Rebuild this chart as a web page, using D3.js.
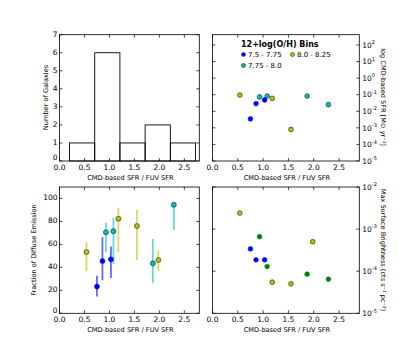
<!doctype html>
<html lang="en">
  <head>
    <meta charset="UTF-8" />
    <title>SFR ratio panels</title>
    <style>
      body { margin: 0; background: #fff; }
      svg text { font-family: 'DejaVu Sans', sans-serif; fill: #000; }
      .spine { fill: none; stroke: #000; stroke-width: 0.8px; }
      .tick { stroke: #000; stroke-width: 0.7px; }
    </style>
  </head>
  <body>
    <div id="chart"></div>
    <script src="https://cdnjs.cloudflare.com/ajax/libs/d3/7.8.5/d3.min.js"></script>
    <script>
      // CMD-based SFR / FUV SFR for each galaxy
      const ratio = [0.54, 0.75, 0.86, 0.93, 1.03, 1.08, 1.18, 1.55, 1.87, 1.98, 2.29];
      // metallicity bin of each galaxy (index into binLabels)
      const binIdx = [2, 0, 0, 1, 0, 1, 2, 2, 1, 2, 1];
      const binLabels = ['7.5 - 7.75', '7.75 - 8.0', '8.0 - 8.25'];

      // histogram
      const histEdges = [0.2, 0.705, 1.21, 1.715, 2.22, 2.725];
      const histCounts = [1, 6, 1, 2, 1];

      // log10 CMD-based SFR (null = not plotted)
      const logSfr = [-1.02, -2.46, -1.54, -1.14, -1.32, -1.08, -1.22, -3.1, -1.08, null, -1.6];

      // fraction of diffuse emission, with lower / upper error bounds
      const diffuse = [53.3, 23.3, 45.5, 70.6, 47, 71.5, 82.4, 76, 43.5, 46.4, 94.5];
      const diffLo = [36.6, 14.7, 28.8, 53.3, 30.8, 43, 53.3, 46.4, 26.5, 36.9, 72.6];
      const diffHi = [62, 32.6, 66.3, 78.7, 58.2, 83, 92, 90.2, 64.8, 54.8, 94.5];

      // log10 max surface brightness
      const logSb = [-2.62, -3.47, -3.73, -3.18, -3.73, -3.89, -4.26, -4.3, -4.07, -3.3, -4.19];

      const histTicks = [0, 1, 2, 3, 4, 5, 6, 7];
      const xTicks = [0, 0.5, 1, 1.5, 2, 2.5];
      const diffTicks = [0, 20, 40, 60, 80, 100];
      const sfrTicks = [-5, -4, -3, -2, -1, 0, 1, 2];
      const sbTicks = [-5, -4, -3, -2];

      const colTop = ['#0000ff', '#00bfbf', '#bfbf00'];
      const colBR = ['#0000ff', '#008000', '#bfbf00'];

      const W = 399, H = 349;
      const svg = d3.select('#chart').append('svg').attr('width', W).attr('height', H);

      const L = [59.5, 199.3], R = [212.5, 359.3];
      const T = [34.7, 161], B = [187, 313.3];

      function panel(xr, yr, xdom, ydom, ylog) {
        const x = d3.scaleLinear().domain(xdom).range(xr);
        const y = (ylog ? d3.scaleLog() : d3.scaleLinear()).domain(ydom).range([yr[1], yr[0]]);
        const g = svg.append('g');
        return { x, y, g, xr, yr };
      }

      // spines, inward ticks on all sides, tick labels, x label
      function frame(p, xt, yt, yside, exps) {
        const { x, y, g, xr, yr } = p;
        const tl = 3;
        xt.forEach((v) => {
          g.append('line').attr('class', 'tick').attr('x1', x(v)).attr('x2', x(v)).attr('y1', yr[1]).attr('y2', yr[1] - tl);
          g.append('line').attr('class', 'tick').attr('x1', x(v)).attr('x2', x(v)).attr('y1', yr[0]).attr('y2', yr[0] + tl);
          g.append('text').attr('x', x(v)).attr('y', yr[1] + 8.6).attr('text-anchor', 'middle')
            .style('font-size', '7.5px').text(d3.format('.1f')(v));
        });
        yt.forEach((v, i) => {
          g.append('line').attr('class', 'tick').attr('x1', xr[0]).attr('x2', xr[0] + tl).attr('y1', y(v)).attr('y2', y(v));
          g.append('line').attr('class', 'tick').attr('x1', xr[1]).attr('x2', xr[1] - tl).attr('y1', y(v)).attr('y2', y(v));
          const t = g.append('text').style('font-size', '7.5px');
          if (yside === 'left') {
            // the zero label sits a touch higher, clear of the x tick label below it
            t.attr('x', xr[0] - 2).attr('y', y(v) + (v === 0 ? -0.6 : 2)).attr('text-anchor', 'end').text(v);
          } else {
            t.attr('x', xr[1] + 3).attr('y', y(v) + 2.7).attr('text-anchor', 'start');
            t.append('tspan').text('10');
            t.append('tspan').attr('dy', -3.5).style('font-size', '5px').text(exps[i]);
          }
        });
        g.append('rect').attr('class', 'spine').attr('x', xr[0]).attr('y', yr[0])
          .attr('width', xr[1] - xr[0]).attr('height', yr[1] - yr[0]);
        g.append('text').attr('x', (xr[0] + xr[1]) / 2 + 1).attr('y', yr[1] + 18.5).attr('text-anchor', 'middle')
          .style('font-size', '6.6px').text('CMD-based SFR / FUV SFR');
      }

      function ylabel(xp, yp, txt, rot) {
        svg.append('text').attr('transform', `translate(${xp},${yp}) rotate(${rot})`)
          .attr('text-anchor', 'middle').style('font-size', '6.6px').text(txt);
      }

      // --- top left: histogram
      const p1 = panel(L, T, [0, 2.8], [0, 7], false);
      p1.g.selectAll('rect.bar').data(histCounts).enter().append('rect')
        .attr('x', (d, i) => p1.x(histEdges[i]))
        .attr('width', (d, i) => p1.x(histEdges[i + 1]) - p1.x(histEdges[i]))
        .attr('y', (d) => p1.y(d))
        .attr('height', (d) => p1.y(0) - p1.y(d))
        .attr('fill', 'none').attr('stroke', '#000').attr('stroke-width', 0.9);
      frame(p1, xTicks, histTicks, 'left');
      ylabel(47.5, 97.5, 'Number of Galaxies', -90);

      // --- top right: log SFR
      const p2 = panel(R, T, [0, 2.9], [1e-5, Math.pow(10, 2.62)], true);
      ratio.forEach((r, i) => {
        if (logSfr[i] === null) return;
        const b = binIdx[i];
        p2.g.append('circle').attr('cx', p2.x(r)).attr('cy', p2.y(Math.pow(10, logSfr[i]))).attr('r', 2.4)
          .attr('fill', colTop[b]).attr('stroke', b === 0 ? colTop[b] : '#000').attr('stroke-width', 0.5);
      });
      frame(p2, xTicks, sfrTicks.map((e) => Math.pow(10, e)), 'right', sfrTicks);
      ylabel(381, 97, 'log CMD-based SFR [M\u2299 yr\u207B\u00B9]', 90);

      // legend
      const lg = p2.g.append('g');
      lg.append('text').attr('x', 241).attr('y', 47).style('font-size', '8px').style('font-weight', 'bold')
        .text('12+log(O/H) Bins');
      const legPos = [[243.5, 54.5], [243.5, 65.5], [292.5, 54.5]];
      binLabels.forEach((lab, b) => {
        lg.append('circle').attr('cx', legPos[b][0]).attr('cy', legPos[b][1]).attr('r', 2)
          .attr('fill', colTop[b]).attr('stroke', b === 0 ? colTop[b] : '#000').attr('stroke-width', 0.5);
        lg.append('text').attr('x', legPos[b][0] + 4.5).attr('y', legPos[b][1] + 2.5).style('font-size', '7px').text(lab);
      });

      // --- bottom left: diffuse fraction
      const p3 = panel(L, B, [0, 2.8], [0, 110], false);
      ratio.forEach((r, i) => {
        const b = binIdx[i];
        p3.g.append('line').attr('x1', p3.x(r)).attr('x2', p3.x(r))
          .attr('y1', p3.y(diffLo[i])).attr('y2', p3.y(diffHi[i]))
          .attr('stroke', colTop[b]).attr('stroke-opacity', 0.6).attr('stroke-width', 1.8);
      });
      ratio.forEach((r, i) => {
        const b = binIdx[i];
        p3.g.append('circle').attr('cx', p3.x(r)).attr('cy', p3.y(diffuse[i])).attr('r', 2.5)
          .attr('fill', colTop[b]).attr('stroke', b === 0 ? colTop[b] : '#000').attr('stroke-width', 0.5);
      });
      frame(p3, xTicks, diffTicks, 'left');
      ylabel(35.5, 250, 'Fraction of Diffuse Emission', -90);

      // --- bottom right: max surface brightness
      const p4 = panel(R, B, [0, 2.9], [1e-5, 1e-2], true);
      ratio.forEach((r, i) => {
        const b = binIdx[i];
        p4.g.append('circle').attr('cx', p4.x(r)).attr('cy', p4.y(Math.pow(10, logSb[i]))).attr('r', 2.4)
          .attr('fill', colBR[b]).attr('stroke', b === 2 ? '#000' : colBR[b]).attr('stroke-width', 0.5);
      });
      frame(p4, xTicks, sbTicks.map((e) => Math.pow(10, e)), 'right', sbTicks);
      ylabel(381, 250, 'Max Surface Brightness (cts s\u207B\u00B9 pc\u207B\u00B2)', 90);
    </script>
  </body>
</html>
